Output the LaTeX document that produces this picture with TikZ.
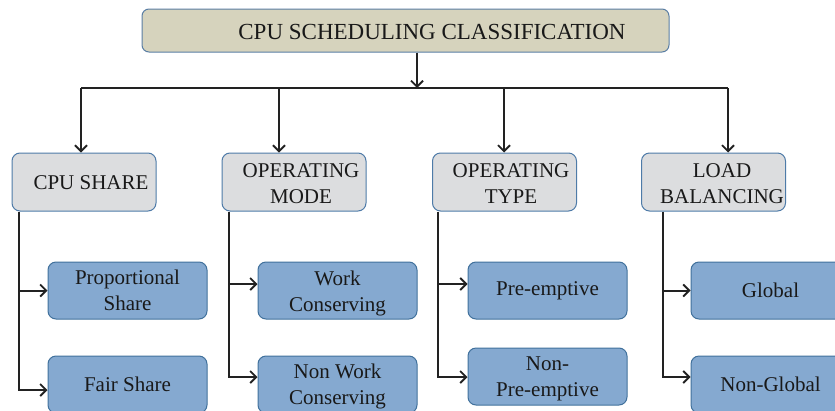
\documentclass[tikz,border=0pt]{standalone}
\usepackage{fontspec}
\setmainfont{Liberation Serif}
\usetikzlibrary{arrows.meta}
\definecolor{titlefill}{HTML}{D6D3BD}
\definecolor{titledraw}{HTML}{5A7EA4}
\definecolor{midfill}{HTML}{DCDDDF}
\definecolor{middraw}{HTML}{4E7BA8}
\definecolor{lowfill}{HTML}{85A9D0}
\definecolor{lowdraw}{HTML}{41719C}
\definecolor{linecol}{HTML}{222222}
\tikzset{
  titlebox/.style={draw=titledraw, fill=titlefill, line width=1pt, rounded corners=7pt,
    minimum width=527pt, minimum height=43pt, inner sep=0pt},
  midbox/.style={draw=middraw, fill=midfill, line width=1pt, rounded corners=8pt,
    minimum width=144pt, minimum height=58pt, inner sep=0pt},
  lowbox/.style={draw=lowdraw, fill=lowfill, line width=1pt, rounded corners=8pt,
    minimum width=159pt, minimum height=57pt, inner sep=0pt, align=center,
    font=\fontsize{21}{26}\selectfont, text=black!90},
  lbl/.style={align=center, inner sep=0pt, text=black!90},
  conn/.style={draw=linecol, line width=2pt},
  arr/.style={conn, -{Straight Barb[length=6pt,width=12pt,line width=1.8pt]}}
}
\begin{document}
\begin{tikzpicture}[x=1pt,y=-1pt]
\useasboundingbox (0,0) rectangle (835,410);
\clip (0,0) rectangle (835,410);
% title
\node[titlebox] (title) at (405.5,30.5) {};
\node[lbl, font=\fontsize{23}{27}\selectfont] (titletext) at (432,32) {CPU SCHEDULING CLASSIFICATION};
% level 2
\node[midbox] (cs) at (84,182) {};
\node[midbox] (om) at (294,182) {};
\node[midbox] (ot) at (504.5,182) {};
\node[midbox] (lb) at (713.5,182) {};
\node[lbl, font=\fontsize{21}{26}\selectfont] (cst) at (91,183) {CPU SHARE};
\node[lbl, font=\fontsize{21}{26}\selectfont] (omt) at (301,184) {OPERATING\\MODE};
\node[lbl, font=\fontsize{21}{26}\selectfont] (ott) at (511,184) {OPERATING\\TYPE};
\node[lbl, font=\fontsize{21}{26}\selectfont] (lbt) at (722,184) {LOAD\\BALANCING};
% level 3
\node[lowbox] (ps) at (127.5,290.5) {Proportional\\Share};
\node[lowbox] (fs) at (127.5,384.5) {Fair Share};
\node[lowbox] (wc) at (337.5,290.5) {};
\node[lbl, font=\fontsize{21}{26}\selectfont] (wct) at (337.5,293) {Work\\Conserving};
\node[lowbox] (nwc) at (337.5,384.5) {};
\node[lbl, font=\fontsize{21}{26}\selectfont] (nwct) at (337.5,386) {Non Work\\Conserving};
\node[lowbox] (pe) at (547.5,290.5) {Pre-emptive};
\node[lowbox] (npe) at (547.5,376.5) {};
\node[lbl, font=\fontsize{21}{26}\selectfont] (npet) at (547.5,379) {Non-\\Pre-emptive};
\node[lowbox] (gl) at (770.5,290.5) {Global};
\node[lowbox] (ng) at (770.5,384.5) {Non-Global};
% bus coordinates
\coordinate (bus) at (417,88);
\coordinate (b1) at (81,88);
\coordinate (b2) at (279,88);
\coordinate (b3) at (504,88);
\coordinate (b4) at (728,88);
\coordinate (t1) at (19,0);
\coordinate (t2) at (229,0);
\coordinate (t3) at (438,0);
\coordinate (t4) at (663,0);
% top connectors
\draw[arr] (title.south -| bus) -- (bus);
\draw[conn] (b1) -- (b4);
\draw[arr] (b1) -- (cs.north -| b1);
\draw[arr] (b2) -- (om.north -| b2);
\draw[arr] (b3) -- (ot.north -| b3);
\draw[arr] (b4) -- (lb.north -| b4);
% branch connectors
\draw[arr] (cs.south -| t1) |- ([yshift=-5.5pt]fs.west);
\draw[arr] (t1 |- ps.west) -- (ps.west);
\draw[arr] (om.south -| t2) |- ([yshift=7.5pt]nwc.west);
\draw[arr] ([yshift=6.5pt]t2 |- wc.west) -- ([yshift=6.5pt]wc.west);
\draw[arr] (ot.south -| t3) |- ([yshift=-0.5pt]npe.west);
\draw[arr] ([yshift=6.5pt]t3 |- pe.west) -- ([yshift=6.5pt]pe.west);
\draw[arr] (lb.south -| t4) |- ([yshift=7.5pt]ng.west);
\draw[arr] (t4 |- gl.west) -- (gl.west);
\end{tikzpicture}
\end{document}
